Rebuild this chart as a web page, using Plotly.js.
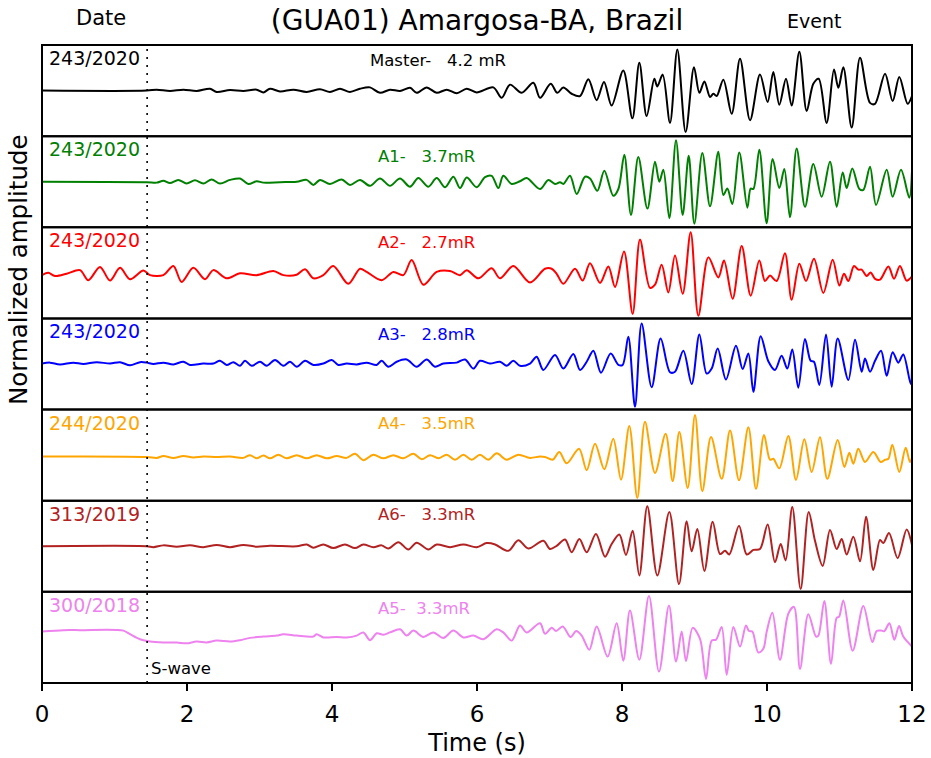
<!DOCTYPE html>
<html><head><meta charset="utf-8">
<script src="https://cdn.plot.ly/plotly-3.0.1.min.js"></script>
<style>html,body{margin:0;padding:0;background:#fff}#chart{width:931px;height:758px}</style>
</head><body><div id="chart"></div>
<script>
// ---- Data (time in s, normalized amplitude) ----
const masterTime = [
 0, 1.444, 1.582, 1.766, 1.95, 2.133, 2.317, 2.409, 2.593, 2.777,
 2.961, 3.053, 3.145, 3.283, 3.467, 3.651, 3.834, 3.972, 4.11, 4.248,
 4.386, 4.524, 4.662, 4.8, 4.938, 5.076, 5.168, 5.306, 5.444, 5.582,
 5.72, 5.858, 5.995, 6.225, 6.34, 6.455, 6.616, 6.777, 6.87, 7.016,
 7.108, 7.191, 7.306, 7.421, 7.536, 7.65, 7.752, 7.857, 8.018, 8.143,
 8.239, 8.34, 8.446, 8.487, 8.561, 8.662, 8.763, 8.878, 8.993, 9.067,
 9.136, 9.214, 9.26, 9.306, 9.398, 9.513, 9.628, 9.766, 9.903, 10.009,
 10.087, 10.17, 10.262, 10.34, 10.446, 10.547, 10.639, 10.713, 10.823, 10.924,
 10.984, 11.053, 11.168, 11.283, 11.421, 11.49, 11.628, 11.733, 11.825, 11.94,
 12.0];
const masterAmp = [
 0, 0, 0.02, -0.01, 0.02, -0.01, 0.04, -0.03, 0.01, -0.01,
 0.02, -0.04, 0.04, -0.02, 0.02, -0.03, 0.03, -0.03, 0.04, -0.03,
 0.04, 0.07, -0.05, 0.02, -0.01, 0.06, -0.05, 0.07, -0.05, 0.02,
 -0.06, 0.04, -0.04, 0.07, -0.16, 0.13, -0.05, 0.17, -0.16, 0.15,
 -0.05, 0.07, -0.07, -0.12, 0.25, -0.21, 0.19, -0.33, 0.44, -0.61,
 0.61, -0.56, 0.26, 0.09, 0.35, -0.71, 0.90, -0.91, 0.51, -0.05,
 0.20, -0.14, -0.07, -0.12, 0.24, -0.51, 0.70, -0.65, 0.35, -0.25,
 0.41, -0.31, 0.26, -0.33, 0.85, -0.45, 0.15, 0.26, -0.71, 0.46,
 0.06, 0.51, -0.81, 0.72, -0.27, -0.29, 0.37, -0.23, 0.30, -0.29,
 -0.12];

const a1Time = [
 0, 1.444, 1.582, 1.674, 1.765, 1.88, 1.995, 2.11, 2.225, 2.34,
 2.455, 2.593, 2.731, 2.846, 2.961, 3.053, 3.283, 3.513, 3.651, 3.743,
 3.834, 3.972, 4.133, 4.248, 4.386, 4.524, 4.662, 4.8, 4.938, 5.076,
 5.191, 5.329, 5.444, 5.559, 5.674, 5.766, 5.858, 5.995, 6.11, 6.202,
 6.294, 6.363, 6.478, 6.593, 6.685, 6.869, 6.984, 7.076, 7.145, 7.191,
 7.283, 7.375, 7.49, 7.559, 7.66, 7.756, 7.88, 7.95, 8.032, 8.124,
 8.225, 8.35, 8.455, 8.515, 8.57, 8.653, 8.745, 8.837, 8.92, 8.998,
 9.108, 9.214, 9.329, 9.398, 9.453, 9.522, 9.618, 9.729, 9.775, 9.812,
 9.894, 9.995, 10.078, 10.17, 10.239, 10.317, 10.409, 10.524, 10.639, 10.754,
 10.869, 10.961, 11.044, 11.099, 11.177, 11.274, 11.329, 11.421, 11.504, 11.651,
 11.733, 11.848, 11.963, 12.0];
const a1Amp = [
 0, -0.01, -0.02, 0.02, -0.03, 0.04, -0.04, 0.03, -0.04, 0.05,
 -0.04, 0.04, 0.07, -0.05, 0.01, -0.02, -0.01, 0.0, 0.04, -0.07,
 0.04, -0.05, 0.05, -0.07, 0.04, -0.09, 0.07, -0.09, 0.07, -0.11,
 0.08, -0.11, 0.08, -0.12, 0.11, -0.14, 0.09, -0.12, 0.10, 0.13,
 -0.14, 0.13, -0.05, 0.01, 0.08, -0.16, 0.04, -0.05, -0.01, -0.05,
 0.13, -0.27, 0.11, 0.07, -0.20, 0.24, -0.31, -0.16, 0.59, -0.73,
 0.54, -0.59, 0.44, 0.0, 0.26, -0.80, 0.91, -0.73, 0.57, -0.92,
 0.63, -0.54, 0.66, -0.29, -0.15, -0.49, 0.64, -0.57, -0.15, -0.16,
 0.70, -0.91, 0.50, -0.14, 0.28, -0.78, 0.73, -0.55, 0.39, -0.33,
 0.44, -0.55, 0.20, -0.14, 0.29, -0.16, -0.18, 0.33, -0.51, 0.26,
 -0.33, 0.26, -0.35, 0.24];

const a2Time = [
 0, 0.087, 0.179, 0.34, 0.524, 0.639, 0.80, 0.938, 1.076, 1.214,
 1.398, 1.49, 1.674, 1.812, 1.926, 2.087, 2.248, 2.363, 2.547, 2.731,
 2.961, 3.191, 3.329, 3.513, 3.628, 3.743, 3.88, 4.018, 4.225, 4.386,
 4.478, 4.685, 4.846, 4.984, 5.099, 5.26, 5.444, 5.628, 5.766, 5.858,
 6.018, 6.202, 6.317, 6.501, 6.731, 6.938, 7.03, 7.099, 7.191, 7.352,
 7.457, 7.559, 7.697, 7.812, 7.904, 8.028, 8.147, 8.248, 8.386, 8.455,
 8.547, 8.639, 8.731, 8.837, 8.947, 9.053, 9.191, 9.329, 9.407, 9.526,
 9.651, 9.775, 9.894, 9.972, 10.041, 10.133, 10.248, 10.34, 10.446, 10.538,
 10.648, 10.777, 10.906, 10.998, 11.062, 11.122, 11.2, 11.26, 11.306, 11.375,
 11.43, 11.49, 11.559, 11.674, 11.752, 11.834, 11.926, 12.0];
const a2Amp = [
 -0.05, 0.0, -0.07, -0.02, 0.06, -0.16, 0.13, -0.17, 0.11, -0.14,
 0.05, -0.05, -0.05, 0.15, -0.20, 0.11, -0.14, 0.06, -0.12, -0.01,
 -0.05, 0.04, -0.05, -0.04, 0.08, -0.12, -0.05, 0.15, -0.24, 0.09,
 0.02, -0.16, 0.02, -0.05, 0.28, -0.26, 0.02, 0.04, -0.05, 0.06,
 -0.12, 0.10, -0.12, 0.15, -0.21, 0.09, 0.09, -0.02, -0.24, 0.09,
 -0.17, 0.21, -0.22, 0.14, -0.31, 0.47, -0.90, 0.73, -0.33, -0.26,
 0.18, -0.43, 0.38, -0.46, 0.89, -0.94, 0.34, -0.10, 0.27, -0.57,
 0.59, -0.50, 0.27, -0.18, -0.06, -0.18, 0.43, -0.59, 0.20, -0.18,
 0.31, -0.44, 0.29, -0.28, -0.02, -0.18, 0.15, 0.07, 0.07, -0.07,
 0.01, -0.13, -0.15, 0.14, -0.13, 0.15, -0.17, -0.08];

const a3Time = [
 0, 0.11, 0.248, 0.432, 0.57, 0.754, 0.938, 1.076, 1.214, 1.352,
 1.444, 1.536, 1.674, 1.812, 1.95, 2.041, 2.225, 2.363, 2.455, 2.547,
 2.639, 2.731, 2.8, 2.892, 3.007, 3.099, 3.214, 3.329, 3.421, 3.513,
 3.628, 3.743, 3.88, 3.995, 4.087, 4.202, 4.34, 4.478, 4.616, 4.685,
 4.777, 4.892, 5.03, 5.168, 5.306, 5.42, 5.536, 5.72, 5.835, 5.95,
 6.041, 6.179, 6.317, 6.409, 6.501, 6.593, 6.731, 6.823, 6.915, 7.076,
 7.191, 7.329, 7.421, 7.513, 7.605, 7.71, 7.844, 7.95, 8.009, 8.087,
 8.179, 8.271, 8.409, 8.533, 8.662, 8.731, 8.846, 8.961, 9.067, 9.168,
 9.237, 9.32, 9.434, 9.572, 9.664, 9.743, 9.812, 9.913, 10.018, 10.11,
 10.202, 10.28, 10.349, 10.432, 10.524, 10.602, 10.648, 10.722, 10.814, 10.892,
 10.975, 11.122, 11.214, 11.306, 11.352, 11.421, 11.49, 11.573, 11.651, 11.733,
 11.811, 11.88, 11.982, 12.0];
const a3Amp = [
 0.01, 0.03, -0.01, 0.03, 0.0, 0.04, 0.01, 0.04, -0.03, 0.04,
 0.03, 0.0, 0.03, -0.01, 0.05, -0.02, 0.01, 0.01, 0.07, -0.02,
 0.04, -0.04, 0.07, -0.04, 0.05, -0.04, 0.09, -0.04, 0.05, -0.06,
 0.07, -0.02, 0.01, 0.09, -0.02, 0.01, -0.01, 0.03, -0.02, 0.07,
 -0.06, 0.05, 0.10, -0.06, 0.10, -0.06, 0.01, 0.03, 0.10, -0.10,
 0.07, 0.01, 0.05, -0.04, 0.07, -0.04, 0.01, 0.16, -0.13, 0.20,
 -0.10, 0.22, -0.13, 0.05, 0.29, -0.19, 0.23, -0.02, -0.02, 0.60,
 -0.94, 0.89, -0.51, 0.56, -0.18, -0.17, 0.29, -0.44, 0.65, -0.21,
 -0.10, 0.34, -0.34, 0.40, -0.11, 0.23, -0.61, 0.61, 0.06, -0.13,
 0.18, -0.10, 0.32, -0.52, 0.55, 0.07, 0.05, -0.46, 0.65, -0.50,
 0.56, -0.35, 0.53, -0.17, 0.12, -0.17, 0.07, 0.29, -0.26, 0.26,
 0.03, 0.21, -0.44, -0.02];

const a4Time = [
 0, 1.444, 1.582, 1.674, 1.812, 1.95, 2.087, 2.225, 2.409, 2.593,
 2.777, 2.869, 2.961, 3.053, 3.145, 3.26, 3.375, 3.513, 3.651, 3.789,
 3.926, 4.064, 4.202, 4.317, 4.432, 4.57, 4.708, 4.846, 4.984, 5.122,
 5.237, 5.352, 5.467, 5.582, 5.697, 5.812, 5.927, 6.041, 6.156, 6.271,
 6.409, 6.57, 6.731, 6.869, 6.938, 7.044, 7.136, 7.237, 7.407, 7.513,
 7.628, 7.756, 7.88, 7.986, 8.101, 8.211, 8.317, 8.455, 8.602, 8.699,
 8.791, 8.906, 9.007, 9.108, 9.228, 9.375, 9.49, 9.614, 9.743, 9.848,
 9.959, 10.041, 10.087, 10.17, 10.294, 10.4, 10.515, 10.616, 10.731, 10.832,
 10.975, 11.067, 11.136, 11.191, 11.26, 11.352, 11.467, 11.568, 11.628, 11.674,
 11.729, 11.825, 11.913, 11.972, 12.0];
const a4Amp = [
 -0.03, -0.04, -0.06, -0.02, -0.06, -0.02, -0.05, -0.03, -0.04, -0.03,
 -0.06, 0.0, -0.07, -0.01, -0.07, 0.01, -0.07, 0.0, -0.07, 0.0,
 -0.07, -0.02, -0.06, 0.03, -0.11, 0.01, -0.07, 0.0, -0.07, 0.03,
 -0.09, 0.0, -0.07, 0.01, -0.10, 0.01, -0.10, 0.01, -0.10, 0.04,
 -0.10, 0.01, -0.06, -0.03, -0.04, -0.10, 0.07, -0.18, 0.14, -0.33,
 0.25, -0.31, 0.36, -0.54, 0.64, -0.94, 0.73, -0.39, 0.47, -0.57,
 0.51, -0.72, 0.88, -0.79, 0.40, -0.52, 0.54, -0.55, 0.61, -0.74,
 0.44, -0.10, -0.08, -0.29, 0.42, -0.54, 0.35, -0.37, 0.39, -0.52,
 0.33, -0.26, 0.05, -0.19, 0.14, -0.15, 0.07, -0.15, -0.10, -0.08,
 0.23, -0.37, 0.16, -0.15, -0.06];

const a6Time = [
 0, 1.444, 1.536, 1.674, 1.858, 2.041, 2.225, 2.409, 2.593, 2.777,
 2.961, 3.145, 3.513, 3.651, 3.743, 3.88, 4.018, 4.179, 4.317, 4.432,
 4.57, 4.685, 4.777, 4.915, 5.053, 5.168, 5.329, 5.444, 5.628, 5.812,
 5.995, 6.133, 6.25, 6.432, 6.57, 6.708, 6.915, 7.007, 7.099, 7.214,
 7.306, 7.412, 7.513, 7.641, 7.766, 7.857, 7.963, 8.055, 8.147, 8.239,
 8.349, 8.487, 8.653, 8.786, 8.892, 8.961, 9.039, 9.136, 9.251, 9.352,
 9.421, 9.48, 9.614, 9.72, 9.812, 9.903, 10.009, 10.11, 10.189, 10.257,
 10.349, 10.464, 10.575, 10.662, 10.768, 10.869, 10.961, 11.03, 11.099, 11.191,
 11.283, 11.366, 11.467, 11.559, 11.605, 11.683, 11.802, 11.926, 12.0];
const a6Amp = [
 0.0, 0.0, -0.02, 0.02, -0.01, 0.02, -0.02, 0.03, -0.02, 0.03,
 -0.01, 0.01, 0.0, 0.04, -0.03, 0.04, -0.04, 0.04, -0.04, 0.04,
 -0.02, 0.02, -0.05, 0.09, -0.07, 0.08, -0.07, 0.04, -0.02, 0.04,
 -0.02, 0.07, 0.04, -0.10, 0.13, -0.05, 0.12, -0.06, 0.01, 0.15,
 -0.13, 0.16, -0.13, 0.27, -0.23, 0.05, 0.26, -0.19, 0.34, -0.64,
 0.88, -0.64, 0.75, -0.83, 0.55, -0.11, 0.38, -0.54, 0.54, -0.17,
 -0.10, -0.18, 0.45, -0.18, -0.08, -0.06, 0.48, -0.35, 0.05, -0.31,
 0.86, -0.94, 0.75, 0.12, -0.43, 0.36, -0.06, 0.16, -0.18, 0.21,
 -0.33, 0.65, -0.52, 0.14, 0.07, 0.29, -0.26, 0.37, 0.03];

const a5Time = [
 0, 0.294, 0.524, 1.122, 1.214, 1.352, 1.49, 1.674, 1.858, 1.995,
 2.133, 2.271, 2.409, 2.593, 2.731, 2.869, 3.053, 3.237, 3.329, 3.513,
 3.743, 3.789, 3.88, 4.064, 4.202, 4.34, 4.432, 4.524, 4.616, 4.708,
 4.8, 4.938, 5.03, 5.122, 5.26, 5.398, 5.536, 5.674, 5.812, 5.95,
 6.087, 6.271, 6.363, 6.478, 6.593, 6.685, 6.869, 6.938, 7.03, 7.09,
 7.182, 7.292, 7.366, 7.444, 7.549, 7.651, 7.802, 7.926, 8.018, 8.11,
 8.239, 8.372, 8.51, 8.648, 8.745, 8.823, 8.883, 8.975, 9.076, 9.159,
 9.237, 9.297, 9.375, 9.444, 9.536, 9.628, 9.71, 9.752, 9.798, 9.88,
 9.949, 9.995, 10.074, 10.179, 10.294, 10.372, 10.455, 10.57, 10.676, 10.708,
 10.791, 10.883, 10.961, 10.993, 11.053, 11.182, 11.329, 11.453, 11.513, 11.573,
 11.619, 11.688, 11.756, 11.821, 11.88, 12.0];
const a5Amp = [
 0.13, 0.16, 0.16, 0.15, 0.07, -0.04, -0.09, -0.11, -0.11, -0.13,
 -0.09, -0.11, -0.07, -0.09, -0.06, -0.01, 0.02, 0.04, 0.07, 0.04,
 0.02, 0.07, 0.0, 0.01, 0.0, 0.04, 0.11, -0.06, 0.09, 0.06,
 0.11, 0.18, 0.04, 0.15, 0.01, 0.11, -0.01, 0.15, 0.0, 0.04,
 -0.04, 0.18, 0.11, -0.07, 0.26, 0.11, 0.31, 0.08, 0.21, 0.14,
 0.24, 0.01, 0.14, 0.04, -0.27, 0.24, -0.42, 0.31, -0.51, 0.59,
 -0.49, 0.91, -0.75, 0.70, -0.53, 0.13, -0.52, 0.21, -0.03, -0.91,
 -0.07, -0.05, 0.23, -0.82, 0.23, -0.20, 0.26, 0.14, 0.13, -0.33,
 -0.25, 0.12, 0.54, -0.49, 0.52, 0.67, -0.69, 0.51, 0.02, 0.04,
 0.80, -0.58, 0.43, 0.45, 0.81, -0.29, 0.69, -0.10, 0.14, 0.15,
 0.14, 0.31, -0.05, 0.25, 0.02, -0.20];

const panelNames  = ['Master', 'A1', 'A2', 'A3', 'A4', 'A6', 'A5'];
const panelDates  = ['243/2020', '243/2020', '243/2020', '243/2020', '244/2020', '313/2019', '300/2018'];
const panelLabels = ['Master-\u00a0\u00a0 4.2 mR', 'A1-\u00a0\u00a0 3.7mR', 'A2-\u00a0\u00a0 2.7mR', 'A3-\u00a0\u00a0 2.8mR',
                     'A4-\u00a0\u00a0 3.5mR', 'A6-\u00a0\u00a0 3.3mR', 'A5-\u00a0 3.3mR'];
const seriesTime = [masterTime, a1Time, a2Time, a3Time, a4Time, a6Time, a5Time];
const seriesAmp  = [masterAmp, a1Amp, a2Amp, a3Amp, a4Amp, a6Amp, a5Amp];
const xTicks = [0, 2, 4, 6, 8, 10, 12];
const sWaveTime = 1.45;

// ---- styling ----
const colors = ['#000000', '#008000', '#ff0000', '#0000ff', '#ffa500', '#b22222', '#ee82ee'];
const FONT = 'DejaVu Sans, Liberation Sans, sans-serif';
const labelX = [0.375, 0.384, 0.384, 0.384, 0.384, 0.384, 0.384];
const labelY = [0.835, 0.78, 0.835, 0.825, 0.845, 0.845, 0.815];
const N = panelNames.length;

const traces = [], shapes = [], annotations = [];
const layout = {
  width: 931, height: 758,
  margin: {l: 42, r: 19, t: 45, b: 75, pad: 0},
  paper_bgcolor: '#fff', plot_bgcolor: '#fff',
  showlegend: false,
  font: {family: FONT, color: '#000'},
  title: {text: '(GUA01) Amargosa-BA, Brazil', font: {size: 28, family: FONT, color: '#000'},
          x: 0.5, xref: 'paper', xanchor: 'center', y: 1 - 20 / 758, yref: 'container', yanchor: 'middle'},
  xaxis: {range: [0, 12], tickvals: xTicks, ticks: 'outside', ticklen: 7, tickwidth: 1.5, tickcolor: '#000',
          ticklabelstandoff: 3,
          tickfont: {size: 23, family: FONT, color: '#000'}, showgrid: false, zeroline: false, showline: false,
          anchor: 'y7', title: {text: 'Time (s)', font: {size: 24, family: FONT, color: '#000'}, standoff: 8}},
};

for (let k = 0; k < N; k++) {
  const yname = k === 0 ? 'y' : 'y' + (k + 1);
  const ykey = k === 0 ? 'yaxis' : 'yaxis' + (k + 1);
  const dom = [1 - (k + 1) / N, 1 - k / N];
  layout[ykey] = {domain: dom, range: [-1, 1], showticklabels: false, ticks: '', showgrid: false,
                  zeroline: false, showline: false, fixedrange: true};
  traces.push({x: seriesTime[k], y: seriesAmp[k], xaxis: 'x', yaxis: yname, type: 'scatter', mode: 'lines',
               name: panelNames[k], line: {color: colors[k], width: 2, shape: 'spline', smoothing: 0.9},
               hoverinfo: 'skip'});
  shapes.push({type: 'rect', xref: 'paper', yref: 'paper', x0: 0, x1: 1, y0: dom[0], y1: dom[1],
               line: {color: '#000', width: 2}, layer: 'above'});
  annotations.push({text: panelDates[k], xref: 'paper', x: 0.006, xanchor: 'left',
                    yref: yname + ' domain', y: 1 - 13 / 91, yanchor: 'middle', showarrow: false,
                    font: {size: 19, family: FONT, color: colors[k]}});
  annotations.push({text: panelLabels[k], xref: 'paper', x: labelX[k], xanchor: 'left',
                    yref: yname + ' domain', y: labelY[k], yanchor: 'middle', showarrow: false,
                    font: {size: 16.5, family: FONT, color: colors[k]}});
}

shapes.push({type: 'line', xref: 'x', yref: 'paper', x0: sWaveTime, x1: sWaveTime, y0: 0, y1: 1,
             line: {color: '#000', width: 1.6, dash: '2px,6px'}});
annotations.push({text: 'S-wave', xref: 'x', x: sWaveTime, xshift: 2, xanchor: 'left',
                  yref: 'y7 domain', y: 0.16, yanchor: 'middle', showarrow: false,
                  font: {size: 16.5, family: FONT, color: '#000'}});
annotations.push({text: 'Date', xref: 'paper', x: 59 / 870, xanchor: 'center', yref: 'paper', y: 1 + 27 / 638,
                  yanchor: 'middle', showarrow: false, font: {size: 21, family: FONT, color: '#000'}});
annotations.push({text: 'Event', xref: 'paper', x: 772 / 870, xanchor: 'center', yref: 'paper', y: 1 + 24 / 638,
                  yanchor: 'middle', showarrow: false, font: {size: 19, family: FONT, color: '#000'}});
annotations.push({text: 'Normalized amplitude', xref: 'paper', x: -24 / 870, xanchor: 'center', yref: 'paper',
                  y: (683 - 270) / 638, yanchor: 'middle', textangle: -90, showarrow: false,
                  font: {size: 24.5, family: FONT, color: '#000'}});

layout.shapes = shapes;
layout.annotations = annotations;
Plotly.newPlot('chart', traces, layout, {staticPlot: true, displayModeBar: false});
</script>
</body></html>
